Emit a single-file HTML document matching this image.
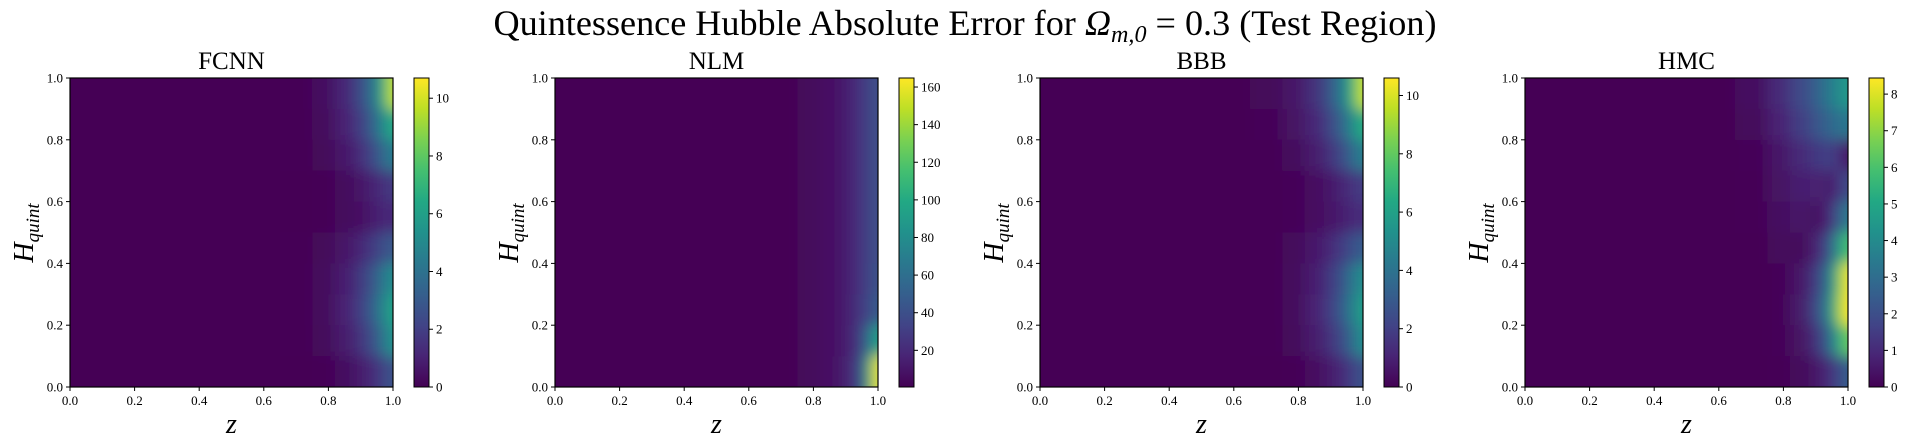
<!DOCTYPE html>
<html><head><meta charset="utf-8"><style>
html,body{margin:0;padding:0;background:#fff;}
svg{display:block;font-family:"Liberation Serif","DejaVu Serif",serif;}
</style></head><body>
<svg id="fig" width="1911" height="448" viewBox="0 0 1911 448" xmlns="http://www.w3.org/2000/svg">
<defs>
<filter id="smooth" filterUnits="userSpaceOnUse" x="0" y="0" width="1911" height="448"><feGaussianBlur stdDeviation="7 7"/></filter>
</defs>
<text x="965" y="35" font-size="36" text-anchor="middle" textLength="943" lengthAdjust="spacingAndGlyphs">Quintessence Hubble Absolute Error for <tspan font-style="italic">Ω</tspan><tspan font-size="24" dy="7" font-style="italic">m,0</tspan><tspan dy="-7"> = 0.3 (Test Region)</tspan></text>
</svg>
<script>
// shared axis categories (cell edges)
const zEdges = [0, 0.65, 0.75, 0.82, 0.88, 0.92, 0.95, 0.97, 0.985, 1.0];
const hEdges = [1.0, 0.9, 0.8, 0.7, 0.6, 0.5, 0.4, 0.3, 0.2, 0.1, 0.0];
const axisTicks = [0, 0.2, 0.4, 0.6, 0.8, 1.0];
const axisTickLabels = ["0.0", "0.2", "0.4", "0.6", "0.8", "1.0"];
const panelTitles = ["FCNN", "NLM", "BBB", "HMC"];

// values: rows top (H 0.9-1.0) to bottom (H 0-0.1), columns along z
const fcnnValues = [
 [0,0.1,0.4,1.2,2.5,4,5.5,7.5,9.8],
 [0,0.1,0.3,1,2,3.3,4.5,5.5,6.5],
 [0,0.05,0.2,0.7,1.4,2.3,3.2,4,4.5],
 [0,0.03,0.1,0.3,0.6,1,1.3,1.6,1.8],
 [0,0.03,0.1,0.3,0.5,0.8,1,1.2,1.3],
 [0,0.05,0.2,0.6,1.2,1.8,2.3,2.7,3],
 [0,0.05,0.3,0.9,1.8,2.8,3.8,4.6,5.2],
 [0,0.05,0.3,1,2,3.2,4.3,5.3,6.2],
 [0,0.05,0.25,0.8,1.6,2.6,3.6,4.5,5.5],
 [0,0.02,0.1,0.4,0.8,1.3,1.8,2.3,2.8]];
const nlmValues = [
 [0,1,4,8,14,22,30,36,40],
 [0,1,4,8,14,22,30,36,40],
 [0,1,4,8,14,22,30,36,40],
 [0,1,4,8,14,22,30,36,40],
 [0,1,4,8,14,22,30,36,40],
 [0,1,4,8,14,22,30,36,40],
 [0,1,4,8,14,22,30,36,42],
 [0,1,4,8,14,23,32,40,48],
 [0,1,4,8,14,25,45,70,95],
 [0,1,4,8,15,30,60,110,160]];
const bbbValues = [
 [0,0.2,0.6,1.5,3,4.5,6,8,9.8],
 [0,0.15,0.5,1.2,2.3,3.5,4.6,5.6,6.6],
 [0,0.1,0.3,0.8,1.6,2.5,3.3,4,4.6],
 [0,0.05,0.15,0.4,0.7,1.1,1.4,1.7,1.9],
 [0,0.05,0.15,0.4,0.6,0.9,1.1,1.3,1.4],
 [0,0.05,0.25,0.7,1.3,1.9,2.4,2.8,3.1],
 [0,0.05,0.3,0.9,1.8,2.8,3.8,4.6,5.2],
 [0,0.05,0.3,1,2,3.1,4.2,5.1,5.9],
 [0,0.05,0.25,0.8,1.6,2.5,3.4,4.3,5.2],
 [0,0.02,0.1,0.4,0.8,1.3,1.8,2.3,2.7]];
const hmcValues = [
 [0,0.3,1,1.8,2.6,3.3,3.8,4.2,4.5],
 [0,0.2,0.8,1.5,2.2,2.7,3,3.2,3.3],
 [0,0.1,0.5,1,1.4,1.6,1.5,1,0.5],
 [0,0.05,0.4,0.7,0.8,0.6,0.8,1.5,2],
 [0,0.05,0.3,0.5,0.3,0.8,1.8,2.8,3.5],
 [0,0.03,0.2,0.2,0.8,2,3.5,5,6],
 [0,0.03,0.1,0.5,1.5,3,5,7,8.3],
 [0,0.03,0.1,0.6,1.8,3.5,5.5,7.5,8.4],
 [0,0.02,0.1,0.4,1.2,2.5,4,5.5,6.5],
 [0,0.01,0.05,0.2,0.5,1,1.5,2,2.5]];
const colorMins = [0, 0.5, 0, 0];
const colorMaxs = [10.7, 164.8, 10.6, 8.44];
const cbTicks0 = [0,2,4,6,8,10];
const cbTicks1 = [20,40,60,80,100,120,140,160];
const cbTicks2 = [0,2,4,6,8,10];
const cbTicks3 = [0,1,2,3,4,5,6,7,8];

const allValues = [fcnnValues, nlmValues, bbbValues, hmcValues];
const allTicks = [cbTicks0, cbTicks1, cbTicks2, cbTicks3];

const VIR = ["#440154","#482475","#414487","#355f8d","#2a788e","#21918c","#22a884","#44bf70","#7ad151","#bddf26","#fde725"];
function hex(h){return [parseInt(h.substr(1,2),16),parseInt(h.substr(3,2),16),parseInt(h.substr(5,2),16)];}
function viridis(t){t=Math.max(0,Math.min(1,t));const p=t*10,i=Math.min(9,Math.floor(p)),f=p-i;const a=hex(VIR[i]),b=hex(VIR[i+1]);
 return "rgb("+a.map((v,k)=>Math.round(v+(b[k]-v)*f)).join(",")+")";}

const NS="http://www.w3.org/2000/svg";
const svg=document.getElementById("fig");
function mk(tag,attrs,parent){const e=document.createElementNS(NS,tag);for(const k in attrs)e.setAttribute(k,attrs[k]);(parent||svg).appendChild(e);return e;}

const plotTop=78,plotBottom=387,pw=323,cbOff=344,cbW=15,ext=40;
const lefts=[70,555,1040,1525];
const defs=svg.querySelector("defs");

for(let p=0;p<4;p++){
 const L=lefts[p];
 const xS=v=>L+v*pw;
 const yS=v=>plotBottom-v*(plotBottom-plotTop);
 const vals=allValues[p], mn=colorMins[p], mx=colorMaxs[p];
 const g=mk("g",{});
 
 
 const cp=mk("clipPath",{id:"cp"+p},defs);
 mk("rect",{x:L,y:plotTop,width:pw,height:plotBottom-plotTop},cp);
 const hg=mk("g",{"clip-path":"url(#cp"+p+")"},g);
 
 
 const inner=mk("g",{filter:"url(#smooth)"},hg);
 const nr=vals.length;
 for(let r=0;r<nr;r++){
  const nc=vals[r].length;
  for(let c=0;c<nc;c++){
   let x0=xS(zEdges[c]),x1=xS(zEdges[c+1]),y0=yS(hEdges[r]),y1=yS(hEdges[r+1]);
   if(c===0)x0-=ext; if(c===nc-1)x1+=ext; if(r===0)y0-=ext; if(r===nr-1)y1+=ext;
   const cell=mk("rect",{x:x0,y:y0,width:x1-x0+0.5,height:y1-y0+0.5,fill:viridis((vals[r][c]-mn)/(mx-mn))},inner);
   
   
  }
 }
 const frame=mk("rect",{x:L,y:plotTop,width:pw,height:plotBottom-plotTop,fill:"none",stroke:"#000","stroke-width":1.2},g);
 
 
 for(let i=0;i<axisTicks.length;i++){
  const x=xS(axisTicks[i]),y=yS(axisTicks[i]);
  mk("line",{x1:x,x2:x,y1:plotBottom,y2:plotBottom+4,stroke:"#000"},g);
  const tx=mk("text",{x:x,y:405,"font-size":13,"text-anchor":"middle"},g);tx.textContent=axisTickLabels[i];
  
  
  mk("line",{x1:L-4,x2:L,y1:y,y2:y,stroke:"#000"},g);
  const ty=mk("text",{x:L-7,y:y+4.5,"font-size":13,"text-anchor":"end"},g);ty.textContent=axisTickLabels[i];
  
  
 }
 const t=mk("text",{x:L+pw/2,y:69,"font-size":25,"text-anchor":"middle"},g);t.textContent=panelTitles[p];
 
 
 const xl=mk("text",{x:L+pw/2,y:433,"font-size":28,"font-style":"italic","text-anchor":"middle"},g);xl.textContent="z";
 
 
 const yl=mk("text",{x:0,y:0,"font-size":28,"font-style":"italic","text-anchor":"middle",transform:"translate("+(L-37)+",233) rotate(-90)"},g);
 
 
 yl.innerHTML='H<tspan font-size="19" dy="6">quint</tspan>';
 const cx=L+cbOff;
 const grad=mk("linearGradient",{id:"cb"+p,x1:0,y1:1,x2:0,y2:0},defs);
 for(let i=0;i<=20;i++)mk("stop",{offset:i/20,"stop-color":viridis(i/20)},grad);
 const cb=mk("rect",{x:cx,y:plotTop,width:cbW,height:plotBottom-plotTop,fill:"url(#cb"+p+")",stroke:"#000","stroke-width":1},g);
 
 
 const cS=v=>plotBottom-(v-mn)/(mx-mn)*(plotBottom-plotTop);
 allTicks[p].forEach(v=>{
  const y=cS(v);
  mk("line",{x1:cx+cbW,x2:cx+cbW+4,y1:y,y2:y,stroke:"#000"},g);
  const ct=mk("text",{x:cx+cbW+7,y:y+4.5,"font-size":13},g);ct.textContent=String(v);
  
  
 });
}
</script>
</body></html>
